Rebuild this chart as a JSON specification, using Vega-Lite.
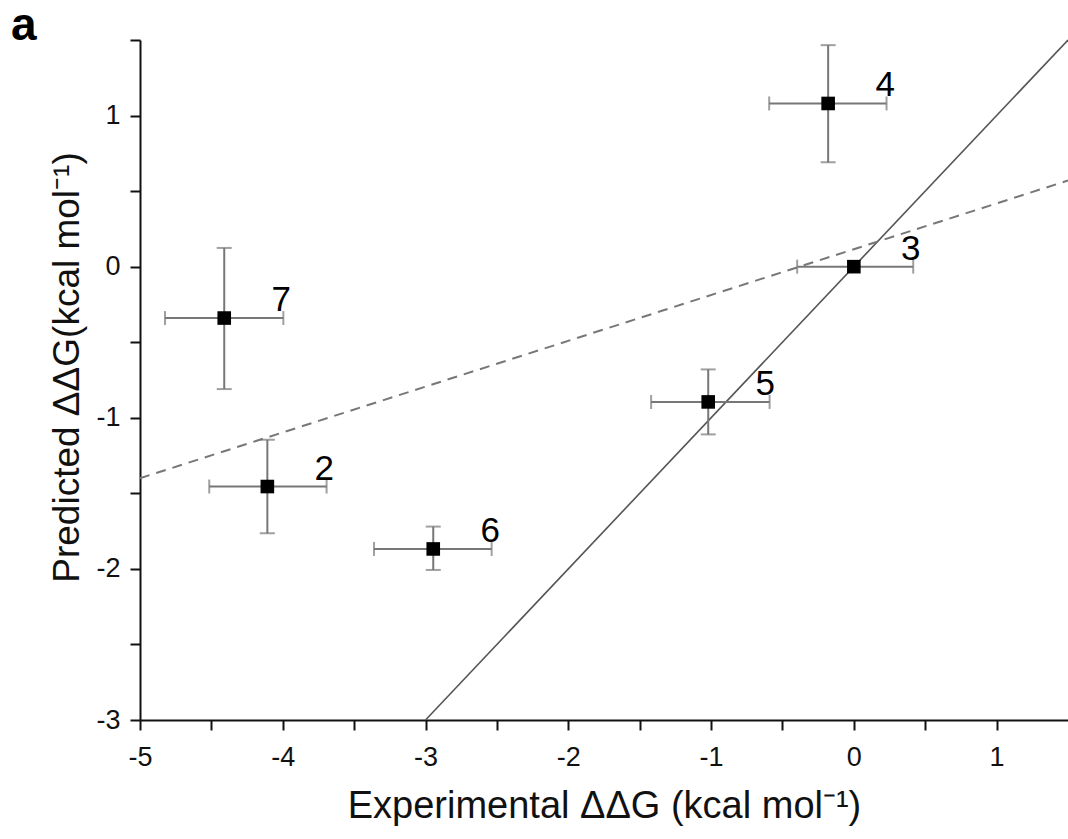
{
  "$schema": "https://vega.github.io/schema/vega-lite/v6.json",
  "width": 928,
  "height": 680,
  "autosize": {"type": "none"},
  "padding": {"left": 140, "top": 40, "right": 0, "bottom": 119},
  "background": "white",
  "config": {
    "view": {"stroke": null},
    "font": "Liberation Sans"
  },
  "title": {"text": "a", "anchor": "start", "frame": "group", "fontSize": 46, "fontWeight": "bold", "color": "#000", "dx": -129, "dy": 30, "offset": 6},
  "datasets": {
    "pts": [
      {"id": "7", "x": -4.41, "y": -0.34, "xlo": -4.825, "xhi": -3.996, "ylo": -0.81, "yhi": 0.124},
      {"id": "2", "x": -4.108, "y": -1.455, "xlo": -4.515, "xhi": -3.693, "ylo": -1.764, "yhi": -1.146},
      {"id": "6", "x": -2.946, "y": -1.868, "xlo": -3.361, "xhi": -2.537, "ylo": -2.007, "yhi": -1.72},
      {"id": "5", "x": -1.02, "y": -0.895, "xlo": -1.42, "xhi": -0.59, "ylo": -1.11, "yhi": -0.68},
      {"id": "3", "x": 0.0, "y": 0.0, "xlo": -0.397, "xhi": 0.416, "ylo": 0.0, "yhi": 0.0},
      {"id": "4", "x": -0.18, "y": 1.08, "xlo": -0.593, "xhi": 0.229, "ylo": 0.691, "yhi": 1.466}
    ],
    "ideal": [{"x": -3, "y": -3}, {"x": 1.5, "y": 1.5}],
    "fit": [{"x": -5, "y": -1.4}, {"x": 1.5, "y": 0.57}]
  },
  "layer": [
    {
      "data": {"name": "ideal"},
      "mark": {"type": "line", "color": "#555", "strokeWidth": 1.6},
      "encoding": {
        "x": {"field": "x", "type": "quantitative", "title": "Experimental ΔΔG (kcal mol⁻¹)", "scale": {"domain": [-5, 1.5], "nice": false, "zero": false},
          "axis": {"values": [-5, -4.5, -4, -3.5, -3, -2.5, -2, -1.5, -1, -0.5, 0, 0.5, 1], "labelExpr": "datum.value % 1 === 0 ? '' + datum.value : ''", "labelFlush": false, "labelOverlap": false, "tickSize": 10, "labelPadding": 14, "titlePadding": 17, "grid": false, "domainColor": "#111", "domainWidth": 2, "tickColor": "#111", "tickWidth": 2, "labelColor": "#111", "titleColor": "#111", "labelFontSize": 27, "titleFontSize": 38, "titleFontWeight": "normal", "labelFont": "Liberation Sans", "titleFont": "Liberation Sans"}},
        "y": {"field": "y", "type": "quantitative", "title": "Predicted ΔΔG(kcal mol⁻¹)", "scale": {"domain": [-3, 1.5], "nice": false, "zero": false},
          "axis": {"values": [-3, -2.5, -2, -1.5, -1, -0.5, 0, 0.5, 1, 1.5], "labelExpr": "datum.value % 1 === 0 ? '' + datum.value : ''", "labelFlush": false, "labelOverlap": false, "tickSize": 10, "labelPadding": 10, "titlePadding": 9, "titleY": 327, "grid": false, "domainColor": "#111", "domainWidth": 2, "tickColor": "#111", "tickWidth": 2, "labelColor": "#111", "titleColor": "#111", "labelFontSize": 27, "titleFontSize": 37, "titleFontWeight": "normal", "labelFont": "Liberation Sans", "titleFont": "Liberation Sans"}}
      }
    },
    {
      "data": {"name": "fit"},
      "mark": {"type": "line", "color": "#777", "strokeWidth": 2, "strokeDash": [10, 7]},
      "encoding": {
        "x": {"field": "x", "type": "quantitative", "title": "Experimental ΔΔG (kcal mol⁻¹)"},
        "y": {"field": "y", "type": "quantitative", "title": "Predicted ΔΔG(kcal mol⁻¹)"}
      }
    },
    {
      "data": {"name": "pts"},
      "mark": {"type": "errorbar", "color": "#777", "ticks": {"size": 14}, "rule": {"strokeWidth": 2}, "thickness": 2},
      "encoding": {
        "x": {"field": "xlo", "type": "quantitative", "title": "Experimental ΔΔG (kcal mol⁻¹)"},
        "x2": {"field": "xhi"},
        "y": {"field": "y", "type": "quantitative", "title": "Predicted ΔΔG(kcal mol⁻¹)"}
      }
    },
    {
      "data": {"name": "pts"},
      "transform": [{"filter": "datum.yhi > datum.ylo"}],
      "mark": {"type": "errorbar", "color": "#777", "ticks": {"size": 15}, "rule": {"strokeWidth": 2}, "thickness": 2},
      "encoding": {
        "y": {"field": "ylo", "type": "quantitative", "title": "Predicted ΔΔG(kcal mol⁻¹)"},
        "y2": {"field": "yhi"},
        "x": {"field": "x", "type": "quantitative", "title": "Experimental ΔΔG (kcal mol⁻¹)"}
      }
    },
    {
      "data": {"name": "pts"},
      "mark": {"type": "square", "filled": true, "color": "#000", "size": 185, "opacity": 1},
      "encoding": {
        "x": {"field": "x", "type": "quantitative", "title": "Experimental ΔΔG (kcal mol⁻¹)"},
        "y": {"field": "y", "type": "quantitative", "title": "Predicted ΔΔG(kcal mol⁻¹)"}
      }
    },
    {
      "data": {"name": "pts"},
      "mark": {"type": "text", "fontSize": 35, "color": "#000", "dx": 57, "dy": -18},
      "encoding": {
        "x": {"field": "x", "type": "quantitative", "title": "Experimental ΔΔG (kcal mol⁻¹)"},
        "y": {"field": "y", "type": "quantitative", "title": "Predicted ΔΔG(kcal mol⁻¹)"},
        "text": {"field": "id"}
      }
    }
  ]
}
